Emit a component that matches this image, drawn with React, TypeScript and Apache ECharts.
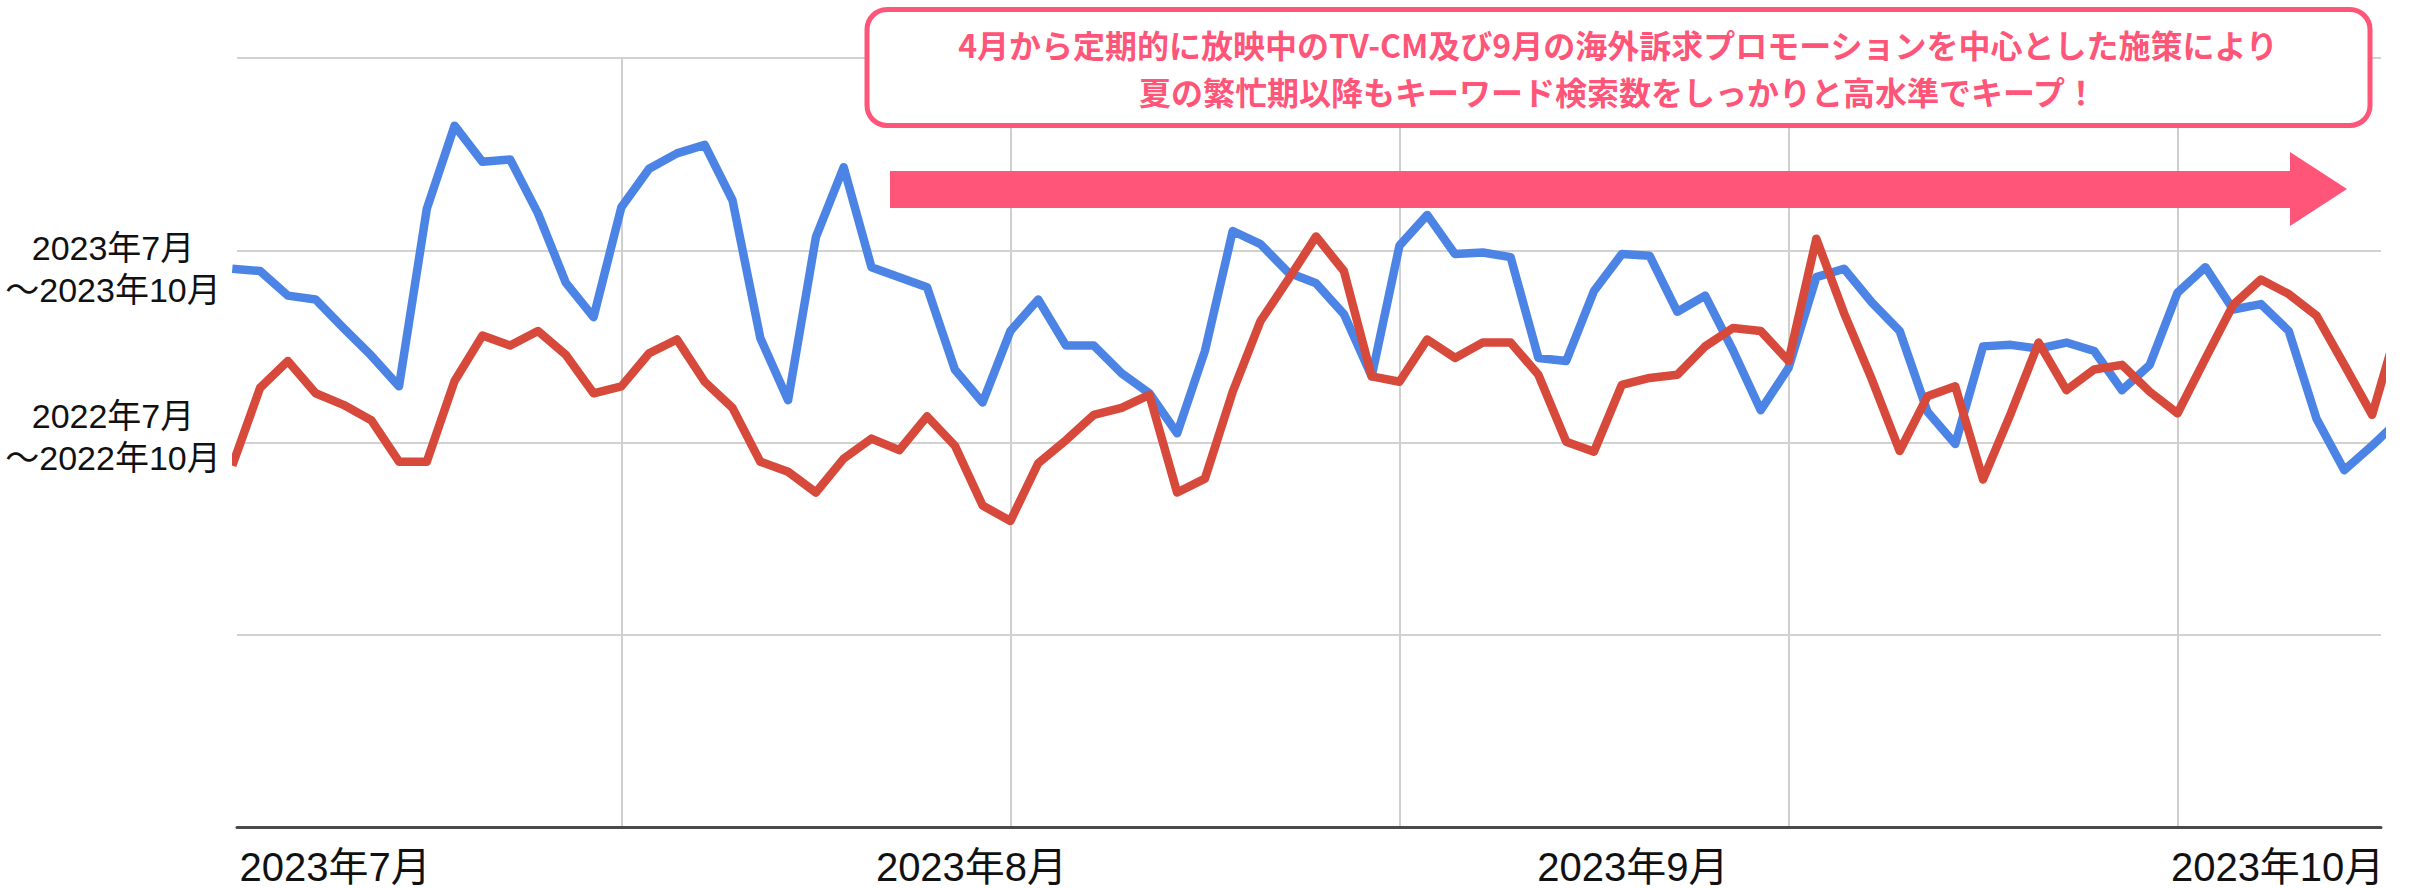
import React, { useEffect, useRef } from "react";
import * as echarts from "echarts";

// Search interest, 2023 period (blue) and 2022 period (red); one value per point index
const series2023 = [
  72.6, 72.3, 69.1, 68.6, 64.9, 61.3, 57.3, 80.4, 91.2, 86.5,
  86.8, 79.8, 70.8, 66.3, 80.6, 85.6, 87.6, 88.7, 81.5, 63.6,
  55.5, 76.7, 85.8, 72.8, 71.5, 70.2, 59.5, 55.2, 64.5, 68.6,
  62.6, 62.6, 59.0, 56.4, 51.2, 61.9, 77.5, 75.8, 72.1, 70.7,
  66.7, 58.6, 75.6, 79.6, 74.5, 74.7, 74.1, 61.0, 60.6, 69.7,
  74.5, 74.3, 67.0, 69.1, 62.0, 54.2, 59.7, 71.5, 72.6, 68.2,
  64.5, 54.0, 49.8, 62.5, 62.7, 62.2, 63.0, 61.9, 56.8, 60.1,
  69.5, 72.8, 67.3, 68.0, 64.5, 53.1, 46.4, 49.6, 53.0,
];

const series2022 = [
  47.0, 57.1, 60.6, 56.4, 54.9, 52.9, 47.5, 47.5, 58.0, 63.9,
  62.6, 64.5, 61.4, 56.4, 57.3, 61.6, 63.4, 57.9, 54.5, 47.5,
  46.2, 43.5, 47.9, 50.5, 49.0, 53.4, 49.6, 41.8, 39.8, 47.3,
  50.3, 53.6, 54.5, 56.2, 43.5, 45.3, 56.6, 65.8, 71.2, 76.8,
  72.3, 58.6, 57.9, 63.4, 61.0, 63.0, 63.0, 58.8, 50.1, 48.8,
  57.5, 58.4, 58.8, 62.5, 64.9, 64.5, 60.6, 76.5, 66.8, 58.2,
  48.9, 56.0, 57.3, 45.2, 53.8, 63.0, 56.8, 59.5, 60.1, 56.6,
  53.8, 60.9, 67.9, 71.2, 69.3, 66.5, 60.1, 53.6, 66.0,
];

// x axis (point index units)
const xVisibleMin = 0.17;
const xVisibleMax = 77.32;
const verticalGridAt = [14, 28, 42, 56, 70];
const monthLabels = ["2023年7月", "2023年8月", "2023年9月", "2023年10月"];
const monthLabelAt = [3.7, 26.6, 50.4, 73.6];

// y axis
const yMin = 0;
const yMax = 100;
const yStep = 25;

const periodLabels = ["2023年7月\n〜2023年10月", "2022年7月\n〜2022年10月"];
const calloutLines = [
  "4月から定期的に放映中のTV-CM及び9月の海外訴求プロモーションを中心とした施策により",
  "夏の繁忙期以降もキーワード検索数をしっかりと高水準でキープ！",
];

const PINK = "#FF5578";
const BLUE = "#4C84E6";
const RED = "#D6493B";
const FONT = '"Liberation Sans", Arial, "Noto Sans CJK JP", sans-serif';
const JP_FONT = '"Noto Sans CJK JP", "Liberation Sans", sans-serif';

export default function App() {
  const ref = useRef<HTMLDivElement | null>(null);

  useEffect(() => {
    if (!ref.current) return;
    const chart = echarts.init(ref.current, null, { renderer: "svg" });

    const periodText = (text: string, y: number) => ({
      type: "text",
      x: 113,
      y,
      style: {
        text,
        fill: "#111111",
        fontSize: 34,
        fontFamily: FONT,
        textAlign: "center",
        textVerticalAlign: "middle",
        lineHeight: 42,
      },
    });

    const calloutText = (text: string, y: number) => ({
      type: "text",
      x: 1618,
      y,
      z: 11,
      style: {
        text,
        fill: PINK,
        fontSize: 32,
        fontWeight: "bold",
        fontFamily: JP_FONT,
        textAlign: "center",
        textVerticalAlign: "middle",
      },
    });

    const option: any = {
      animation: false,
      backgroundColor: "#ffffff",
      grid: { left: 237, right: 29, top: 58, bottom: 61, containLabel: false },
      xAxis: {
        type: "value",
        min: xVisibleMin,
        max: xVisibleMax,
        axisLine: { show: true, lineStyle: { color: "#4a4a4a", width: 3 } },
        axisTick: { show: false, customValues: verticalGridAt },
        splitLine: { show: true, lineStyle: { color: "#cfcfcf", width: 2 } },
        axisLabel: {
          show: true,
          customValues: monthLabelAt,
          formatter: (v: number) => {
            const i = monthLabelAt.findIndex((p) => Math.abs(p - v) < 1e-6);
            return i >= 0 ? monthLabels[i] : "";
          },
          color: "#111111",
          fontSize: 40,
          fontFamily: FONT,
          margin: 20,
        },
      },
      yAxis: {
        type: "value",
        min: yMin,
        max: yMax,
        interval: yStep,
        axisLine: { show: false },
        axisTick: { show: false },
        axisLabel: { show: false },
        splitLine: { show: true, lineStyle: { color: "#d2d2d2", width: 2 } },
      },
      series: [
        {
          name: "2023",
          type: "line",
          data: series2023.map((v, i) => [i, v]),
          symbol: "none",
          smooth: false,
          clip: true,
          lineStyle: { color: BLUE, width: 8.5, join: "round", cap: "butt" },
          z: 2,
        },
        {
          name: "2022",
          type: "line",
          data: series2022.map((v, i) => [i, v]),
          symbol: "none",
          smooth: false,
          clip: true,
          lineStyle: { color: RED, width: 8.5, join: "round", cap: "butt" },
          z: 3,
        },
      ],
      graphic: [
        periodText(periodLabels[0], 269),
        periodText(periodLabels[1], 437),
        {
          type: "rect",
          shape: { x: 867, y: 9.5, width: 1503, height: 116, r: 20 },
          style: { fill: "#ffffff", stroke: PINK, lineWidth: 5 },
          z: 10,
        },
        calloutText(calloutLines[0], 44),
        calloutText(calloutLines[1], 91),
        {
          type: "polygon",
          z: 10,
          shape: {
            points: [
              [890, 171],
              [2290, 171],
              [2290, 152],
              [2347, 189],
              [2290, 226],
              [2290, 208],
              [890, 208],
            ],
          },
          style: { fill: PINK },
        },
      ],
    };

    chart.setOption(option);
    return () => chart.dispose();
  }, []);

  return (
    <div
      ref={ref}
      style={{ position: "absolute", left: 0, top: 0, width: 2410, height: 888 }}
    />
  );
}
